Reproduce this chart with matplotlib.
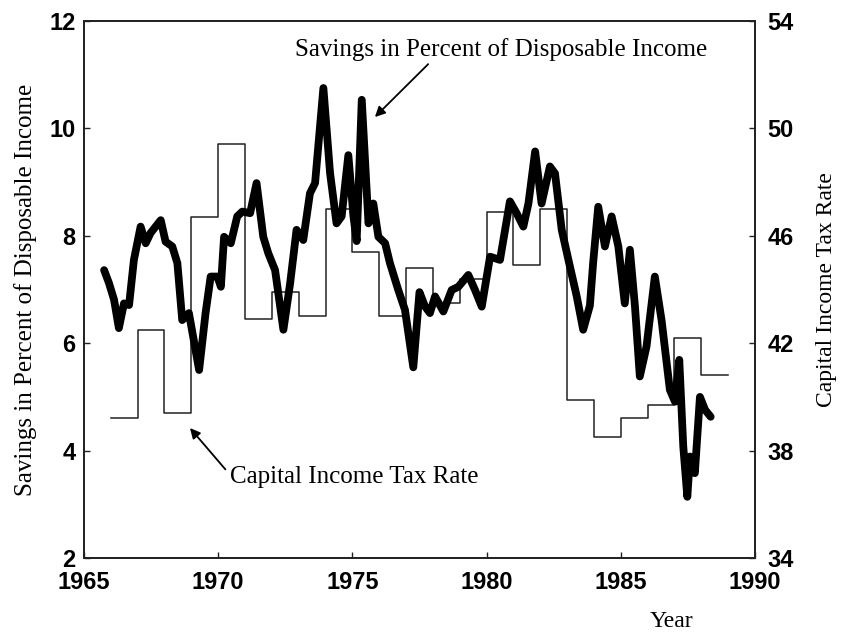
import numpy as np
import matplotlib
matplotlib.use("Agg")
import matplotlib.pyplot as plt

# savings rate, percent of disposable income
sav_year = [1965.75, 1965.93, 1966.12, 1966.30, 1966.49, 1966.68, 1966.86, 1967.11,
            1967.30, 1967.48, 1967.86, 1968.04, 1968.29, 1968.48, 1968.66, 1968.91,
            1969.29, 1969.53, 1969.72, 1969.97, 1970.10, 1970.22, 1970.47, 1970.71,
            1970.90, 1971.19, 1971.43, 1971.68, 1971.87, 1972.12, 1972.43, 1972.68,
            1972.92, 1973.17, 1973.42, 1973.61, 1973.92, 1974.17, 1974.41, 1974.60,
            1974.85, 1975.04, 1975.16, 1975.35, 1975.60, 1975.78, 1975.97, 1976.22,
            1976.40, 1976.71, 1976.96, 1977.27, 1977.50, 1977.71, 1977.89, 1978.08,
            1978.39, 1978.70, 1978.95, 1979.32, 1979.57, 1979.82, 1980.13, 1980.50,
            1980.87, 1981.12, 1981.37, 1981.56, 1981.81, 1982.05, 1982.36, 1982.55,
            1982.80, 1983.05, 1983.36, 1983.60, 1983.85, 1983.97, 1984.16, 1984.41,
            1984.66, 1984.91, 1985.15, 1985.34, 1985.53, 1985.71, 1985.96, 1986.27,
            1986.52, 1986.83, 1987.02, 1987.18, 1987.33, 1987.48, 1987.58, 1987.76,
            1987.95, 1988.14, 1988.35]
sav_value = [7.36, 7.12, 6.81, 6.28, 6.74, 6.71, 7.55, 8.17,
             7.86, 8.05, 8.29, 7.89, 7.80, 7.49, 6.43, 6.56,
             5.50, 6.56, 7.24, 7.24, 7.05, 7.98, 7.86, 8.36,
             8.45, 8.42, 8.98, 7.98, 7.67, 7.36, 6.25, 7.11,
             8.11, 7.92, 8.79, 8.98, 10.75, 9.16, 8.23, 8.36,
             9.50, 8.36, 7.90, 10.53, 8.23, 8.60, 7.98, 7.86,
             7.49, 6.99, 6.62, 5.55, 6.95, 6.68, 6.56, 6.87,
             6.59, 6.99, 7.05, 7.27, 6.99, 6.68, 7.61, 7.55,
             8.64, 8.42, 8.17, 8.60, 9.57, 8.60, 9.29, 9.16,
             8.11, 7.55, 6.87, 6.25, 6.70, 7.49, 8.54, 7.80,
             8.36, 7.80, 6.74, 7.74, 6.68, 5.38, 5.94, 7.24,
             6.43, 5.13, 4.91, 5.69, 4.07, 3.14, 3.89, 3.58,
             5.00, 4.76, 4.63]

# capital income tax rate, one value per year
tax_year = list(range(1966, 1989))
tax_rate = [39.2, 42.5, 39.4, 46.7, 49.4, 42.9, 43.9, 43.0, 47.0, 45.4, 43.0, 44.8,
            43.5, 44.4, 46.9, 44.9, 47.0, 39.9, 38.5, 39.2, 39.7, 42.2, 40.8]

x_ticks = [1965, 1970, 1975, 1980, 1985, 1990]
left_ticks = [2, 4, 6, 8, 10, 12]
right_ticks = [34, 38, 42, 46, 50, 54]

serif = "Liberation Serif"
tick_font = {"family": "Liberation Sans", "weight": "bold", "size": 17}

fig = plt.figure(figsize=(8.44, 6.32), dpi=100)
ax = fig.add_axes([0.0995, 0.117, 0.795, 0.85])
ax2 = ax.twinx()

# step line for the tax rate, held through the last year
ty = tax_year + [tax_year[-1] + 1]
tr = tax_rate + [tax_rate[-1]]
ax2.step(ty, tr, where="post", color="#222222", lw=1.1)
ax2.set_ylim(34, 54)

ax.plot(sav_year, sav_value, color="black", lw=5.6, solid_capstyle="round",
        solid_joinstyle="round", zorder=3)
ax.set_zorder(ax2.get_zorder() + 1)
ax.patch.set_visible(False)

ax.set_xlim(1965, 1990)
ax.set_ylim(2, 12)
ax.set_xticks(x_ticks)
ax.set_yticks(left_ticks)
ax2.set_yticks(right_ticks)

for a in (ax, ax2):
    a.tick_params(direction="in", length=4, width=1, colors="#222222")
    for s in a.spines.values():
        s.set_linewidth(1.3)
        s.set_color("#222222")
ax.tick_params(axis="x", pad=9)
ax.tick_params(axis="y", pad=6)
ax2.tick_params(axis="y", pad=9)

for lbl in ax.get_xticklabels() + ax.get_yticklabels() + ax2.get_yticklabels():
    lbl.set_fontproperties(tick_font)
    lbl.set_color("black")

ax.set_ylabel("Savings in Percent of Disposable Income", family=serif, fontsize=18, labelpad=9)
ax2.set_ylabel("Capital Income Tax Rate", family=serif, fontsize=17, labelpad=16)
ax.text(1986.9, 0.82, "Year", family=serif, fontsize=17, ha="center", va="center")

ax.annotate("Savings in Percent of Disposable Income", xy=(1975.84, 10.21),
            xytext=(1980.54, 11.46), family=serif, fontsize=18,
            ha="center", va="center",
            arrowprops=dict(arrowstyle="-|>", color="black", lw=1.3,
                            shrinkA=0, shrinkB=0, mutation_scale=15,
                            relpos=(0.33, 0.0)))
ax.annotate("Capital Income Tax Rate", xy=(1968.95, 4.42),
            xytext=(1970.44, 3.51), family=serif, fontsize=18,
            ha="left", va="center",
            arrowprops=dict(arrowstyle="-|>", color="black", lw=1.3,
                            shrinkA=2, shrinkB=0, mutation_scale=15,
                            relpos=(0.0, 0.6)))

fig.savefig("out.png", dpi=100)
